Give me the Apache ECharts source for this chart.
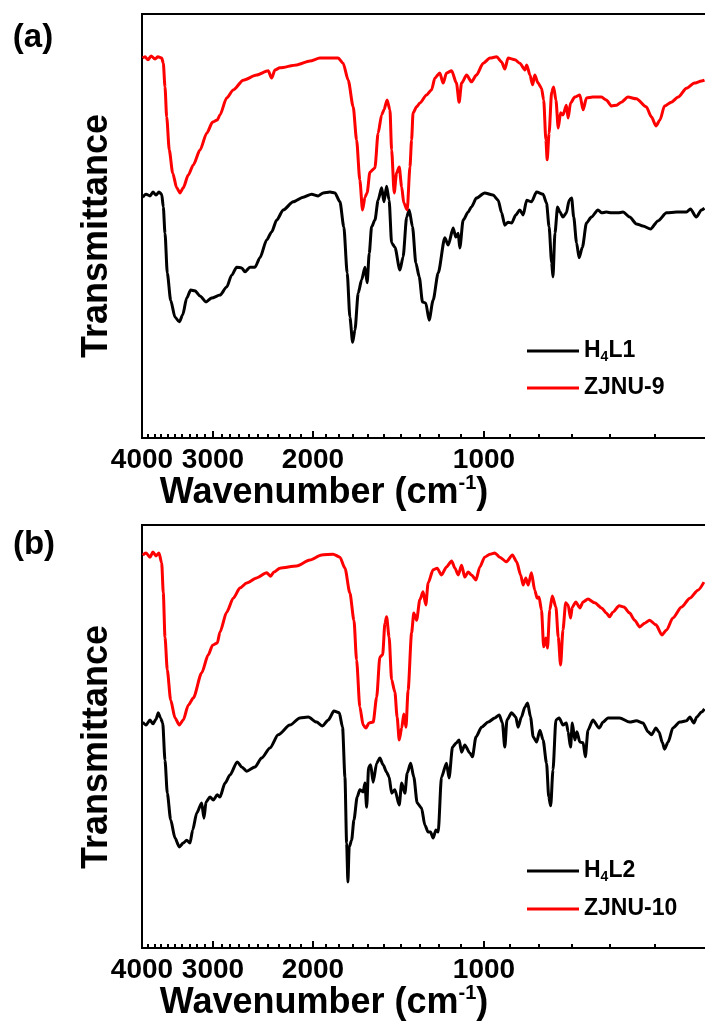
<!DOCTYPE html>
<html><head><meta charset="utf-8">
<script src="https://cdn.jsdelivr.net/npm/echarts@6/dist/echarts.min.js"></script>
<style>html,body{margin:0;padding:0;overflow:hidden;background:#fff;width:705px;height:1030px}#c{width:720px;height:1030px}</style>
</head><body><div id="c"></div><script>
// ---- tick values (cm-1) ----
const majorTicks = [4000, 3000, 2000, 1000];
const minorTicks = [3900,3800,3700,3600,3500,3400,3300,3200,3100,2900,2800,2700,2600,2500,2400,2300,2200,2100,1900,1800,1700,1600,1500,1400,1300,1200,1100,900,800,700,600,500,400];

// ---- panel (a) ----
const wnA_H4L1 = [3989,3935,3872,3826,3779,3734,3693,3669,3644,3610,3561,3499,3439,3392,3337,3283,3227,3162,3086,3016,2916,2838,2781,2725,2670,2635,2582,2530,2480,2413,2365,2317,2256,2167,2081,2011,1958,1919,1867,1830,1793,1765,1741,1722,1703,1687,1665,1642,1620,1606,1592,1577,1556,1536,1514,1500,1484,1469,1454,1435,1406,1388,1368,1354,1336,1318,1300,1283,1266,1249,1229,1204,1172,1156,1133,1121,1110,1103,1088,1066,1052,1031,997,964,944,931,919,907,894,879,865,853,841,825,808,787,776,768,760,756,750,742,735,726,716,708,701,695,687,680,671,660,647,630,621,609,596,581,569,554,539,525,509,494,477,458,440,433,423,414,409];
const tA_H4L1 = [56.8,57.5,57.1,58.0,57.3,58.0,57.5,54.5,48.3,38.9,32.5,28.5,27.4,29.0,33.0,34.9,34.7,33.5,32.1,33.0,33.7,35.6,38.4,40.3,40.1,39.2,40.3,40.3,42.5,46.7,48.6,51.4,53.8,55.7,56.8,57.5,57.1,57.8,58.0,57.8,55.7,49.8,38.9,28.5,22.6,25.5,34.2,37.3,40.3,36.6,43.6,49.8,51.4,56.1,59.0,55.7,59.4,56.1,46.0,45.0,39.6,42.7,52.1,53.8,49.8,41.3,38.0,32.1,31.8,27.8,32.5,38.9,47.2,45.5,49.5,47.4,48.3,44.8,51.4,53.3,54.5,56.6,57.8,57.3,56.1,53.1,50.2,50.9,50.7,52.6,53.8,52.6,56.1,55.7,58.0,57.5,55.4,49.8,41.3,38.0,48.3,54.5,53.3,52.1,53.1,56.1,56.6,52.1,46.0,42.5,45.0,50.7,52.1,53.8,53.1,53.3,53.1,53.1,53.3,52.1,50.5,50.0,49.3,51.2,53.1,53.3,53.3,54.0,52.1,53.8,54.2];

const wnA_ZJNU9 = [3990,3951,3904,3856,3794,3749,3693,3669,3644,3619,3581,3532,3475,3429,3384,3316,3249,3162,3077,3004,2948,2916,2838,2763,2653,2513,2398,2365,2333,2287,2137,2025,1945,1867,1806,1770,1734,1699,1676,1654,1636,1620,1606,1588,1556,1536,1514,1500,1481,1464,1454,1439,1425,1410,1396,1384,1365,1350,1341,1333,1314,1297,1262,1237,1220,1196,1180,1164,1140,1118,1106,1095,1073,1052,1031,1003,976,950,931,919,907,882,865,847,841,830,821,814,803,792,785,778,774,768,760,754,747,740,733,726,716,711,704,692,678,669,660,643,621,609,596,584,573,558,539,518,507,498,490,481,468,455,440,426,414,409];
const tA_ZJNU9 = [89.6,89.9,89.2,90.1,89.4,89.9,89.6,88.4,82.8,75.7,67.9,62.5,59.0,57.8,59.0,62.0,64.4,67.9,71.9,74.5,75.0,76.2,80.2,82.1,84.4,85.6,86.6,84.9,86.8,87.3,88.0,88.9,89.6,89.6,89.6,88.4,84.4,78.1,70.3,60.8,53.8,56.8,57.8,62.7,63.7,71.9,76.2,77.4,79.7,77.4,67.9,57.8,62.5,63.9,59.2,55.4,53.8,63.9,70.3,76.7,78.1,79.0,80.9,82.1,84.9,86.1,83.7,86.1,86.6,83.7,79.2,83.7,85.6,84.0,85.6,88.4,89.6,89.9,88.7,87.0,89.6,89.2,88.4,86.8,88.0,85.6,83.3,85.6,83.7,82.5,79.7,70.3,65.6,71.9,81.6,82.8,79.7,73.1,76.7,76.2,78.5,75.5,79.0,80.4,80.9,77.4,80.2,80.4,80.4,79.7,78.3,78.5,79.2,80.4,80.0,78.1,75.7,73.6,75.0,78.3,79.2,80.4,82.5,83.7,84.2,84.4];

// ---- panel (b) ----
const wnB_H4L2 = [3989,3935,3872,3826,3779,3744,3711,3678,3644,3610,3561,3499,3439,3384,3337,3293,3257,3204,3141,3111,3086,3036,2996,2948,2916,2857,2800,2719,2670,2617,2530,2463,2381,2303,2196,2109,2039,1971,1924,1880,1837,1798,1774,1757,1745,1736,1727,1710,1694,1672,1654,1632,1620,1609,1596,1583,1567,1545,1525,1505,1484,1469,1454,1435,1410,1396,1378,1365,1346,1329,1311,1288,1271,1254,1242,1229,1215,1204,1188,1164,1152,1136,1118,1106,1095,1081,1059,1048,1033,1010,983,957,940,928,919,911,894,879,871,859,847,838,828,819,808,797,787,776,769,763,756,747,737,726,716,711,704,699,692,686,678,669,663,656,643,627,617,605,577,554,539,525,514,507,498,492,485,481,474,465,452,440,434,427,422,414,409];
const tB_H4L2 = [53.4,52.7,53.9,53.0,54.1,55.6,54.4,53.2,44.4,36.6,30.3,26.0,23.9,24.8,25.5,24.8,27.9,31.9,34.3,30.7,34.5,35.7,35.0,36.2,35.7,39.0,40.9,44.0,42.8,41.8,42.8,44.9,47.3,50.4,52.7,54.4,54.6,53.4,52.5,53.9,56.0,55.6,52.2,40.4,24.8,15.6,23.9,25.5,30.3,35.7,37.4,36.9,39.0,33.3,42.8,43.3,39.2,43.7,44.9,43.3,41.6,40.4,36.6,37.4,33.8,39.0,36.6,41.4,43.7,40.4,34.3,33.1,29.1,27.4,27.4,26.0,27.9,27.4,40.4,43.7,40.2,47.5,48.5,49.2,46.3,48.0,46.1,45.2,49.9,52.2,53.4,54.4,55.1,53.2,47.5,53.9,55.6,54.6,52.2,54.6,57.0,57.9,54.6,49.9,48.7,51.5,49.2,43.7,35.7,33.6,42.1,53.9,54.4,52.7,53.2,51.1,47.5,53.2,49.2,51.1,48.7,48.5,45.2,51.5,53.9,52.0,53.4,54.4,54.4,53.4,53.7,53.2,51.1,50.4,52.0,51.1,48.5,47.0,48.7,52.0,53.4,53.7,54.6,53.2,54.6,55.8,56.5];

const wnB_ZJNU10 = [3989,3935,3872,3826,3779,3734,3693,3669,3644,3610,3561,3499,3439,3384,3316,3249,3141,3058,3004,2948,2916,2838,2763,2689,2617,2513,2413,2374,2343,2287,2137,2025,1931,1843,1793,1757,1722,1694,1676,1654,1632,1614,1593,1567,1545,1525,1508,1494,1484,1469,1454,1435,1422,1410,1396,1384,1372,1360,1341,1329,1314,1297,1280,1266,1254,1229,1209,1188,1164,1140,1125,1110,1095,1081,1066,1052,1033,1017,997,976,957,938,913,891,876,862,853,844,836,825,814,806,800,792,785,778,773,766,758,747,740,733,726,718,711,704,699,689,678,669,656,638,621,609,601,593,578,567,554,543,532,521,511,498,486,477,465,449,434,420,410];
const tB_ZJNU10 = [92.9,93.4,92.4,93.6,92.7,93.4,91.0,83.9,73.5,65.7,58.6,54.4,52.7,53.9,57.4,59.1,65.0,69.3,71.6,72.1,74.7,79.4,82.7,85.1,86.3,87.5,88.7,87.9,88.9,89.8,90.3,91.7,92.9,93.1,92.4,89.8,83.9,77.5,68.1,57.0,52.7,52.0,53.2,53.4,59.3,68.8,69.3,76.8,78.3,73.5,63.4,60.5,54.6,49.2,52.0,55.3,52.2,61.0,74.5,79.2,77.5,82.3,84.2,81.1,86.3,89.4,89.8,88.2,90.1,91.5,89.8,88.2,90.5,87.7,88.9,88.2,87.0,90.1,92.4,93.1,93.4,92.4,91.3,92.9,91.3,88.2,85.8,87.5,85.8,88.7,84.6,82.7,83.0,79.9,71.2,73.3,70.9,79.9,83.2,80.6,73.5,66.9,75.2,81.6,81.1,78.0,80.6,81.8,80.4,81.8,82.5,81.6,80.4,79.2,78.3,79.4,80.9,80.6,79.2,77.5,75.9,76.8,77.5,76.4,74.0,75.2,78.0,80.6,82.7,84.6,86.5];

const FONT = '"Liberation Sans", Arial, Helvetica, sans-serif';
const zip = (xs, ys) => xs.map((x, i) => [x, ys[i]]);

function majorAxis(g) {
  return {
    type: 'log', logBase: 10, gridIndex: g, min: 400, max: 4000, inverse: true, position: 'bottom',
    axisLine: { show: false }, splitLine: { show: false }, minorTick: { show: false },
    axisTick: { show: true, inside: true, length: 7, lineStyle: { color: '#000', width: 2 }, customValues: majorTicks },
    axisLabel: { show: true, customValues: majorTicks, formatter: v => String(Math.round(v)),
      fontSize: 28, fontWeight: 'bold', color: '#000', fontFamily: FONT, margin: 8 }
  };
}
function minorAxis(g) {
  return {
    type: 'log', logBase: 10, gridIndex: g, min: 400, max: 4000, inverse: true, position: 'bottom', offset: 0,
    axisLine: { show: false }, splitLine: { show: false }, minorTick: { show: false },
    axisTick: { show: true, inside: true, length: 4, lineStyle: { color: '#000', width: 2 }, customValues: minorTicks },
    axisLabel: { show: false }
  };
}
function line(name, xi, yi, data, color, z) {
  return { type: 'line', name, xAxisIndex: xi, yAxisIndex: yi, data, showSymbol: false, symbol: 'none',
    smooth: 0.25, smoothMonotone: 'x',
    lineStyle: { color, width: 3 }, itemStyle: { color }, z, silent: true };
}
function legend(names, top, gap) {
  return {
    data: names, orient: 'vertical', left: 527, top, padding: 0, itemGap: gap,
    itemWidth: 52, itemHeight: 3, icon: 'rect', selectedMode: false,
    formatter: n => n.replace('H4', 'H{sub|4}'),
    textStyle: { fontSize: 23, fontWeight: 'bold', color: '#000', fontFamily: FONT, lineHeight: 26,
      rich: { sub: { fontSize: 14, fontWeight: 'bold', color: '#000', fontFamily: FONT, verticalAlign: 'bottom', lineHeight: 14 } } }
  };
}
function txt(text, x, y, size, rot, rich) {
  return { type: 'text', x, y, rotation: rot || 0, silent: true,
    style: { text, fontSize: size, fontWeight: 'bold', fontFamily: FONT, fill: '#000',
      align: 'center', verticalAlign: 'middle', textAlign: 'center', textVerticalAlign: 'middle',
      lineHeight: size + 4, rich: rich || {} } };
}
const supRich = { sup: { fontSize: 20, fontWeight: 'bold', fontFamily: FONT, fill: '#000', color: '#000', verticalAlign: 'top', lineHeight: 20 } };

const chart = echarts.init(document.getElementById('c'), null, { renderer: 'canvas' });
chart.setOption({
  animation: false,
  backgroundColor: '#fff',
  grid: [
    { left: 142, top: 14, width: 568, height: 424, show: true, borderColor: '#000', borderWidth: 2, backgroundColor: 'transparent' },
    { left: 142, top: 525, width: 568, height: 423, show: true, borderColor: '#000', borderWidth: 2, backgroundColor: 'transparent' }
  ],
  xAxis: [majorAxis(0), minorAxis(0), majorAxis(1), minorAxis(1)],
  yAxis: [
    { type: 'value', gridIndex: 0, min: 0, max: 100, show: false },
    { type: 'value', gridIndex: 1, min: 0, max: 100, show: false }
  ],
  legend: [legend(['H4L1', 'ZJNU-9'], 338, 11), legend(['H4L2', 'ZJNU-10'], 858, 12)],
  series: [
    line('H4L1', 0, 0, zip(wnA_H4L1, tA_H4L1), '#000000', 2),
    line('ZJNU-9', 0, 0, zip(wnA_ZJNU9, tA_ZJNU9), '#ff0000', 3),
    line('H4L2', 2, 1, zip(wnB_H4L2, tB_H4L2), '#000000', 2),
    line('ZJNU-10', 2, 1, zip(wnB_ZJNU10, tB_ZJNU10), '#ff0000', 3)
  ],
  graphic: [
    txt('(a)', 33, 38, 33),
    txt('(b)', 34, 545, 33),
    txt('Transmittance', 97, 236, 36, Math.PI / 2),
    txt('Transmittance', 97, 747, 36, Math.PI / 2),
    txt('Wavenumber (cm{sup|-1})', 324, 493, 36, 0, supRich),
    txt('Wavenumber (cm{sup|-1})', 324, 1003, 36, 0, supRich)
  ]
});
</script></body></html>
